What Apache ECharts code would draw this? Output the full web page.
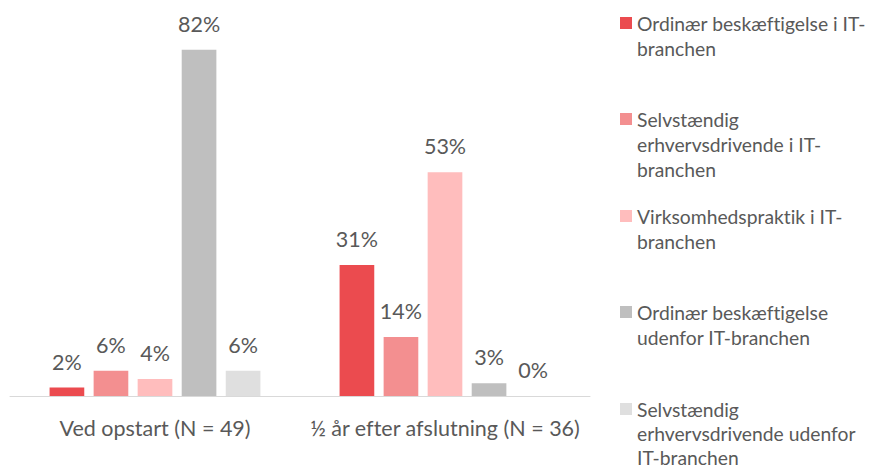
<!DOCTYPE html>
<html>
<head>
<meta charset="utf-8">
<script src="https://cdn.jsdelivr.net/npm/echarts@6/dist/echarts.min.js"></script>
<style>
  html, body { margin: 0; padding: 0; background: #ffffff; }
  #chart { width: 871px; height: 469px; }
  #chart text { font-variant-ligatures: none; }
</style>
</head>
<body>
<div id="chart"></div>
<script>
// Categories along the x axis
const categories = ['Ved opstart (N = 49)', '½ år efter afslutning (N = 36)'];

// Series names and the wrapped text shown in the legend
const seriesNames = [
  'Ordinær beskæftigelse i IT-branchen',
  'Selvstændig erhvervsdrivende i IT-branchen',
  'Virksomhedspraktik i IT-branchen',
  'Ordinær beskæftigelse udenfor IT-branchen',
  'Selvstændig erhvervsdrivende udenfor IT-branchen'
];
const legendLabels = [
  'Ordinær beskæftigelse i IT-\nbranchen',
  'Selvstændig\nerhvervsdrivende i IT-\nbranchen',
  'Virksomhedspraktik i IT-\nbranchen',
  'Ordinær beskæftigelse\nudenfor IT-branchen',
  'Selvstændig\nerhvervsdrivende udenfor\nIT-branchen'
];

// Percentages per series (one value per category)
const ordinaerIT = [2, 31];
const selvstaendigIT = [6, 14];
const praktikIT = [4, 53];
const ordinaerUdenfor = [82, 3];
const selvstaendigUdenfor = [6, 0];

const seriesValues = [ordinaerIT, selvstaendigIT, praktikIT, ordinaerUdenfor, selvstaendigUdenfor];
const colors = ['#EB4B4F', '#F38F90', '#FFBDBD', '#BFBFBF', '#DFDFDF'];

const FONT = 'Lato';
const TEXT_COLOR = '#595959';
const LABEL_FONT = 21.5;
const LEGEND_FONT = 19.3;
// vertical centre of each legend entry's first line, and its line spacing
const legendFirstLine = [23, 119, 216, 312, 409];
const legendLineHeight = [25, 25, 25, 25, 24];

const chart = echarts.init(document.getElementById('chart'), null, { renderer: 'svg' });

// One legend component per entry; blank lines above the text keep the
// marker level with the first text line (legend text is centred on the marker)
const legends = legendLabels.map(function (label, i) {
  const lines = label.split('\n').length;
  const shown = '\n'.repeat(lines - 1) + label;
  const lh = legendLineHeight[i];
  return {
    show: true,
    orient: 'vertical',
    left: 620,
    top: legendFirstLine[i] - (2 * lines - 1) * lh / 2,
    padding: 0,
    itemWidth: 12,
    itemHeight: 12,
    icon: 'rect',
    selectedMode: false,
    data: [seriesNames[i]],
    formatter: function () { return shown; },
    textStyle: {
      fontFamily: FONT,
      fontSize: LEGEND_FONT,
      color: TEXT_COLOR,
      lineHeight: lh
    }
  };
});

const option = {
  backgroundColor: '#ffffff',
  animation: false,
  textStyle: { fontFamily: FONT },
  legend: legends,
  grid: { left: 10, right: 281, top: 16, bottom: 73, containLabel: false },
  xAxis: {
    type: 'category',
    data: categories,
    axisLine: { show: true, lineStyle: { color: '#D9D9D9', width: 1 } },
    axisTick: { show: false },
    axisLabel: {
      interval: 0,
      color: TEXT_COLOR,
      fontFamily: FONT,
      fontSize: LABEL_FONT,
      margin: 21
    }
  },
  yAxis: {
    type: 'value',
    min: 0,
    max: 90,
    show: false,
    splitLine: { show: false }
  },
  series: seriesValues.map(function (vals, i) {
    return {
      name: seriesNames[i],
      type: 'bar',
      data: vals,
      barGap: '27%',
      barCategoryGap: '27.3%',
      itemStyle: { color: colors[i] },
      label: {
        show: true,
        position: 'top',
        distance: 15,
        formatter: '{c}%',
        color: TEXT_COLOR,
        fontFamily: FONT,
        fontSize: LABEL_FONT
      }
    };
  })
};

chart.setOption(option);
</script>
</body>
</html>
